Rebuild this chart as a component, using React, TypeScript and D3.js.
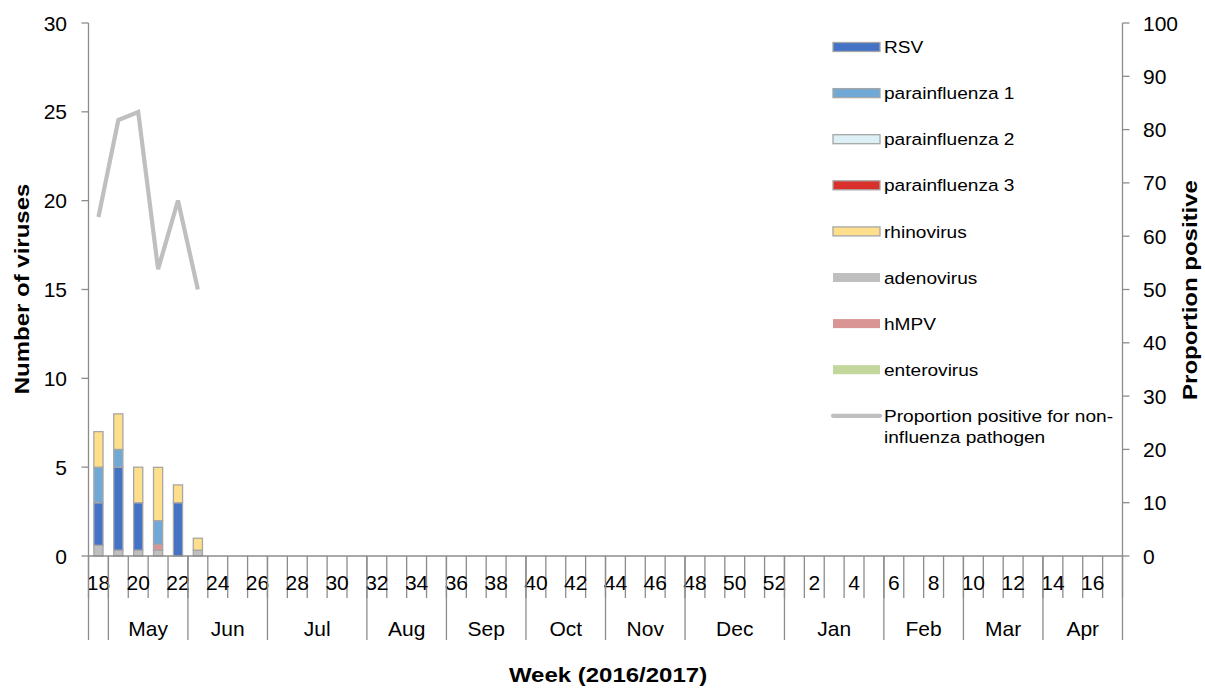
import React from "react";
import * as d3 from "d3";

// weeks from 18 (2016) to 17 (2017)
const weeks: number[] = [
  18, 19, 20, 21, 22, 23, 24, 25, 26, 27, 28, 29, 30, 31, 32, 33, 34, 35, 36, 37, 38, 39, 40, 41, 42, 43,
  44, 45, 46, 47, 48, 49, 50, 51, 52, 1, 2, 3, 4, 5, 6, 7, 8, 9, 10, 11, 12, 13, 14, 15, 16, 17,
];
const weekLabels: number[] = [18, 20, 22, 24, 26, 28, 30, 32, 34, 36, 38, 40, 42, 44, 46, 48, 50, 52, 2, 4, 6, 8, 10, 12, 14, 16];

const months: string[] = ["", "May", "Jun", "Jul", "Aug", "Sep", "Oct", "Nov", "Dec", "Jan", "Feb", "Mar", "Apr"];
const monthWeeks: number[] = [1, 4, 4, 5, 4, 4, 4, 4, 5, 5, 4, 4, 4];

// weeks with reported data
const dataWeeks: number[] = [18, 19, 20, 21, 22, 23];
const rsv: number[] = [2.4, 4.67, 2.67, 0, 3, 0];
const para1: number[] = [2, 1, 0, 1.33, 0, 0];
const para2: number[] = [0, 0, 0, 0, 0, 0];
const para3: number[] = [0, 0, 0, 0, 0, 0];
const rhino: number[] = [2, 2, 2, 3, 1, 0.67];
const adeno: number[] = [0.6, 0.33, 0.33, 0.33, 0, 0.33];
const hmpv: number[] = [0, 0, 0, 0.33, 0, 0];
const entero: number[] = [0, 0, 0, 0, 0, 0];
const proportion: number[] = [63.6, 81.8, 83.3, 53.8, 66.7, 50];

const leftTicks = [0, 5, 10, 15, 20, 25, 30];
const rightTicks = [0, 10, 20, 30, 40, 50, 60, 70, 80, 90, 100];

interface Series {
  name: string;
  values: number[];
  color: string;
  outlined: boolean;
}

const legendSeries: Series[] = [
  { name: "RSV", values: rsv, color: "#4472C4", outlined: true },
  { name: "parainfluenza 1", values: para1, color: "#70A8D6", outlined: true },
  { name: "parainfluenza 2", values: para2, color: "#DDF0F6", outlined: true },
  { name: "parainfluenza 3", values: para3, color: "#D9302B", outlined: true },
  { name: "rhinovirus", values: rhino, color: "#FFDF8C", outlined: true },
  { name: "adenovirus", values: adeno, color: "#BFBFBF", outlined: false },
  { name: "hMPV", values: hmpv, color: "#D99594", outlined: false },
  { name: "enterovirus", values: entero, color: "#C3D69B", outlined: false },
];
// bottom to top
const stackOrder = ["adenovirus", "hMPV", "RSV", "parainfluenza 1", "parainfluenza 2", "parainfluenza 3", "rhinovirus", "enterovirus"];

const FONT = "'Liberation Sans', Arial, sans-serif";
const AXIS = "#8C8C8C";

export default function App() {
  const W = 1205;
  const H = 688;
  const left = 88.5;
  const right = 1122.5;
  const top = 23;
  const bottom = 556;

  const x = d3.scaleBand<number>().domain(weeks).range([left, right]).padding(0);
  const bw = x.bandwidth();
  const barW = bw * 0.46;
  const yL = d3.scaleLinear().domain([0, 30]).range([bottom, top]);
  const yR = d3.scaleLinear().domain([0, 100]).range([bottom, top]);

  const ordered = stackOrder.map((n) => legendSeries.find((s) => s.name === n)!);
  const rows = dataWeeks.map((w, i) => {
    const r: any = { week: w };
    ordered.forEach((s) => (r[s.name] = s.values[i]));
    return r;
  });
  const stacked = d3.stack<any>().keys(stackOrder)(rows);

  const line = d3
    .line<number>()
    .x((_, i) => (x(dataWeeks[i]) as number) + bw / 2)
    .y((d) => yR(d));

  // month boundaries
  let acc = 0;
  const monthBounds = monthWeeks.map((n, i) => {
    const start = acc;
    acc += n;
    return { name: months[i], start, end: acc };
  });

  const legendX = 833;
  const legendY0 = 47;
  const legendStep = 46.1;
  const legendFont = 17.2;
  const legendSx = 1.11;
  const titleFont = 20;
  const titleSx = 1.2;

  const legendText = (tx: number, ty: number, s: string) => (
    <text transform={`translate(${tx},${ty}) scale(${legendSx},1)`} dy="0.36em" fontSize={legendFont}>
      {s}
    </text>
  );

  return (
    <svg width={W} height={H} style={{ position: "absolute", left: 0, top: 0, background: "#fff" }} fontFamily={FONT}>
      {/* left axis */}
      <line x1={left} x2={left} y1={top} y2={bottom} stroke={AXIS} strokeWidth={1.3} />
      {leftTicks.map((t) => (
        <g key={"l" + t}>
          <line x1={left - 7} x2={left} y1={yL(t)} y2={yL(t)} stroke={AXIS} strokeWidth={1.3} />
          <text x={67} y={yL(t)} dy="0.36em" textAnchor="end" fontSize={21}>
            {t}
          </text>
        </g>
      ))}
      {/* right axis */}
      <line x1={right} x2={right} y1={top} y2={bottom} stroke={AXIS} strokeWidth={1.3} />
      {rightTicks.map((t) => (
        <g key={"r" + t}>
          <line x1={right} x2={right + 7} y1={yR(t)} y2={yR(t)} stroke={AXIS} strokeWidth={1.3} />
          <text x={1143} y={yR(t)} dy="0.36em" textAnchor="start" fontSize={21}>
            {t}
          </text>
        </g>
      ))}

      {/* bars */}
      {stacked.map((layer, li) => {
        const s = ordered[li];
        return (
          <g key={s.name}>
            {layer.map((d, i) =>
              d[1] - d[0] > 0 ? (
                <rect
                  key={i}
                  x={(x(dataWeeks[i]) as number) + (bw - barW) / 2}
                  width={barW}
                  y={yL(d[1])}
                  height={yL(d[0]) - yL(d[1])}
                  fill={s.color}
                  stroke="#A6A6A6"
                  strokeWidth={1.3}
                />
              ) : null
            )}
          </g>
        );
      })}

      {/* x axis */}
      <line x1={left} x2={right} y1={bottom} y2={bottom} stroke={AXIS} strokeWidth={1.3} />
      {d3.range(weeks.length + 1).map((i) => (
        <line key={"t" + i} x1={left + i * bw} x2={left + i * bw} y1={bottom} y2={bottom + 42} stroke={AXIS} strokeWidth={1.3} />
      ))}
      {weekLabels.map((w) => (
        <text key={"w" + w} x={(x(w) as number) + bw / 2} y={bottom + 26} dy="0.36em" textAnchor="middle" fontSize={21}>
          {w}
        </text>
      ))}
      {monthBounds.map((m, i) => (
        <g key={"m" + i}>
          <line x1={left + m.start * bw} x2={left + m.start * bw} y1={bottom} y2={bottom + 84} stroke={AXIS} strokeWidth={1.3} />
          {i === monthBounds.length - 1 && (
            <line x1={left + m.end * bw} x2={left + m.end * bw} y1={bottom} y2={bottom + 84} stroke={AXIS} strokeWidth={1.3} />
          )}
          <text x={left + ((m.start + m.end) / 2) * bw} y={bottom + 72} dy="0.36em" textAnchor="middle" fontSize={21}>
            {m.name}
          </text>
        </g>
      ))}

      {/* proportion line */}
      <path d={line(proportion) || ""} fill="none" stroke="#BFBFBF" strokeWidth={4.2} strokeLinejoin="miter" />

      {/* legend */}
      {legendSeries.map((s, i) => {
        const cy = legendY0 + i * legendStep;
        return (
          <g key={"lg" + s.name}>
            <rect
              x={legendX}
              y={cy - 4.5}
              width={47}
              height={9}
              fill={s.color}
              stroke={s.outlined ? "#A6A6A6" : "none"}
              strokeWidth={1.3}
            />
            {legendText(legendX + 51, cy, s.name)}
          </g>
        );
      })}
      {(() => {
        const cy = legendY0 + 8 * legendStep;
        return (
          <g>
            <line x1={legendX} x2={legendX + 47} y1={cy} y2={cy} stroke="#BFBFBF" strokeWidth={4.2} strokeLinecap="round" />
            {legendText(legendX + 51, cy, "Proportion positive for non-")}
            {legendText(legendX + 51, cy + 21, "influenza pathogen")}
          </g>
        );
      })()}

      {/* axis titles */}
      <text transform={`translate(29,289) rotate(-90) scale(${titleSx},1)`} textAnchor="middle" fontSize={titleFont} fontWeight="bold">
        Number of viruses
      </text>
      <text transform={`translate(1197,290) rotate(-90) scale(${titleSx},1)`} textAnchor="middle" fontSize={titleFont} fontWeight="bold">
        Proportion positive
      </text>
      <text transform={`translate(608,682) scale(${titleSx},1)`} textAnchor="middle" fontSize={titleFont} fontWeight="bold">
        Week (2016/2017)
      </text>
    </svg>
  );
}
